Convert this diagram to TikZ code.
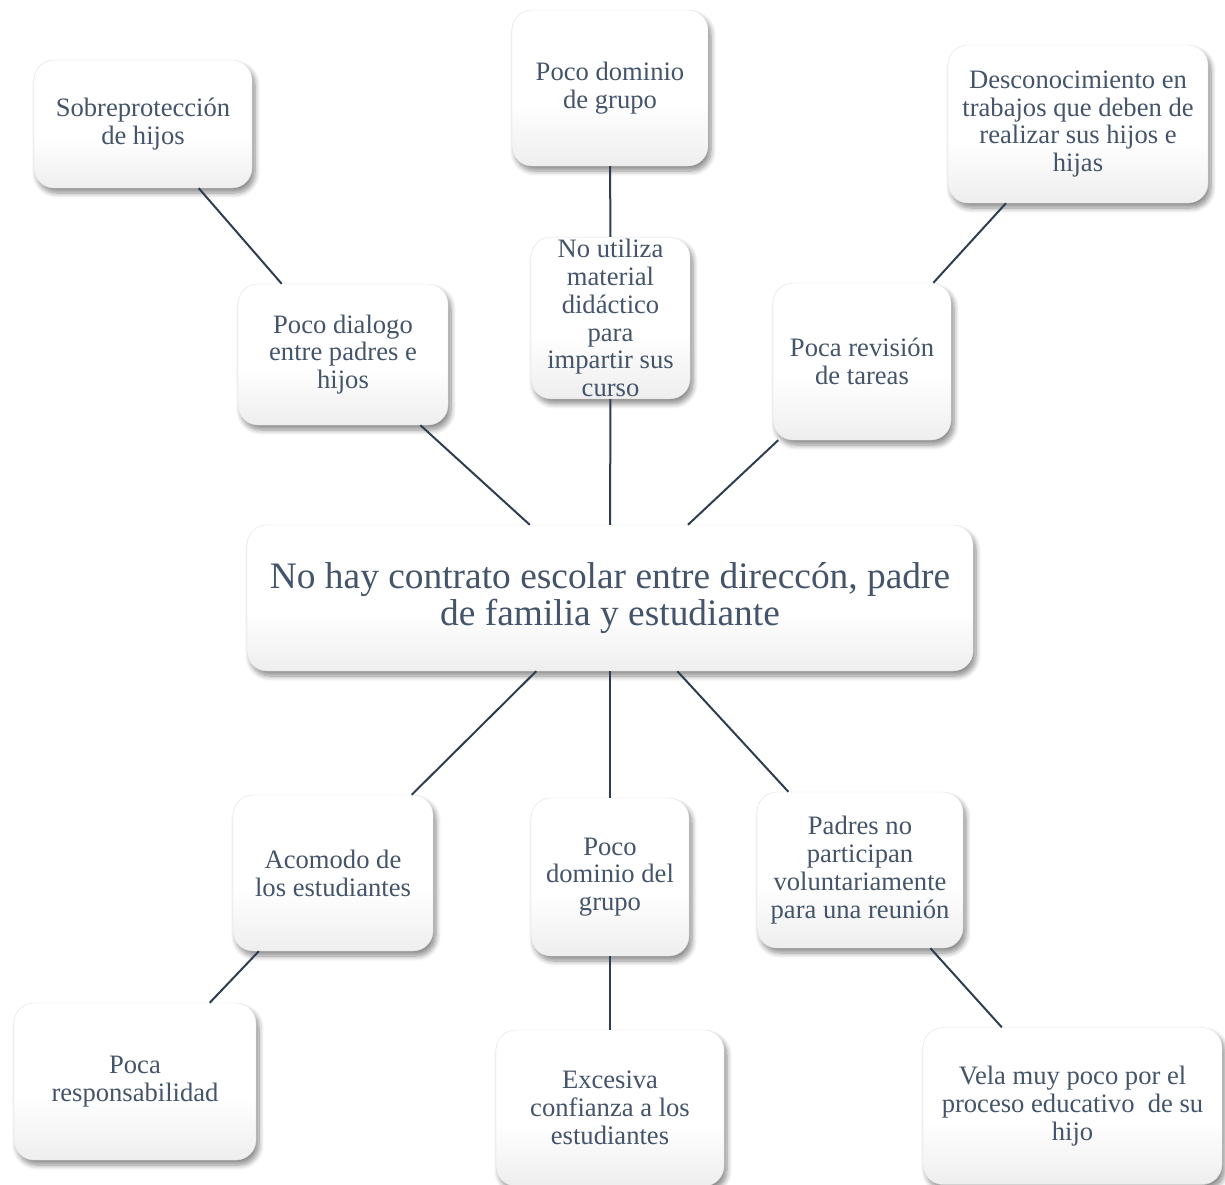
\documentclass[tikz,border=0pt]{standalone}
\usepackage{fontspec}
\setmainfont{Liberation Serif}
\usetikzlibrary{shadows.blur}
\definecolor{txt}{HTML}{44546A}
\definecolor{ln}{HTML}{2E3D50}
\pgfdeclareverticalshading{boxshade}{100bp}{color(0bp)=(black!15); color(45bp)=(white); color(100bp)=(white)}
\tikzset{
  box/.style={rectangle, rounded corners=20pt, shading=boxshade, draw=black!12, line width=0.4pt,
    blur shadow={shadow xshift=3pt, shadow yshift=-5pt, shadow blur steps=8, shadow opacity=45, shadow blur radius=5pt},
    text=txt, align=center, inner sep=2pt, font=\fontsize{26.6}{27.8}\selectfont},
  big/.style={box, font=\fontsize{37.4}{37.5}\selectfont},
  conn/.style={draw=ln, line width=2pt}
}
\begin{document}
\begin{tikzpicture}[x=1pt,y=-1pt]
\useasboundingbox (0,0) rectangle (1225,1184);
% nodes
\node[box, minimum width=218pt, minimum height=128pt] (sob) at (143,124) {Sobreprotección\\de hijos};
\node[box, minimum width=196pt, minimum height=156pt] (pdg) at (610,88) {Poco dominio\\de grupo};
\node[box, minimum width=260pt, minimum height=158pt] (des) at (1078,124) {Desconocimiento en\\trabajos que deben de\\realizar sus hijos e\\hijas};
\node[box, minimum width=210pt, minimum height=141pt] (pdi) at (343,354.5) {Poco dialogo\\entre padres e\\hijos};
\node[box, minimum width=159pt, minimum height=160pt] (nut) at (610.5,318) {No utiliza\\material\\didáctico\\para\\impartir sus\\curso};
\node[box, minimum width=178pt, minimum height=157pt] (prt) at (862,361.5) {Poca revisión\\de tareas};
\node[big, minimum width=726pt, minimum height=146pt] (cen) at (610,598) {No hay contrato escolar entre direccón, padre\\de familia y estudiante};
\node[box, minimum width=200pt, minimum height=156pt] (aco) at (333,873) {Acomodo de\\los estudiantes};
\node[box, minimum width=158pt, minimum height=158pt] (pdd) at (610,877) {Poco\\dominio del\\grupo};
\node[box, minimum width=206pt, minimum height=156pt] (pad) at (860,870) {Padres no\\participan\\voluntariamente\\para una reunión};
\node[box, minimum width=242pt, minimum height=157pt] (pre) at (135,1081.5) {Poca\\responsabilidad};
\node[box, minimum width=228pt, minimum height=156pt] (exc) at (610,1108) {Excesiva\\confianza a los\\estudiantes};
\node[box, minimum width=299pt, minimum height=157pt] (vel) at (1072.5,1106) {Vela muy poco por el\\proceso educativo\ \ de su\\hijo};
% connectors
\draw[conn] (sob) -- (pdi);
\draw[conn] (pdg) -- (nut);
\draw[conn] (des) -- (prt);
\draw[conn] (pdi) -- (cen);
\draw[conn] (nut) -- (cen);
\draw[conn] (prt) -- (cen);
\draw[conn] (cen) -- (aco);
\draw[conn] (cen) -- (pdd);
\draw[conn] (cen) -- (pad);
\draw[conn] (aco) -- (pre);
\draw[conn] (pdd) -- (exc);
\draw[conn] (pad) -- (vel);
\end{tikzpicture}
\end{document}
